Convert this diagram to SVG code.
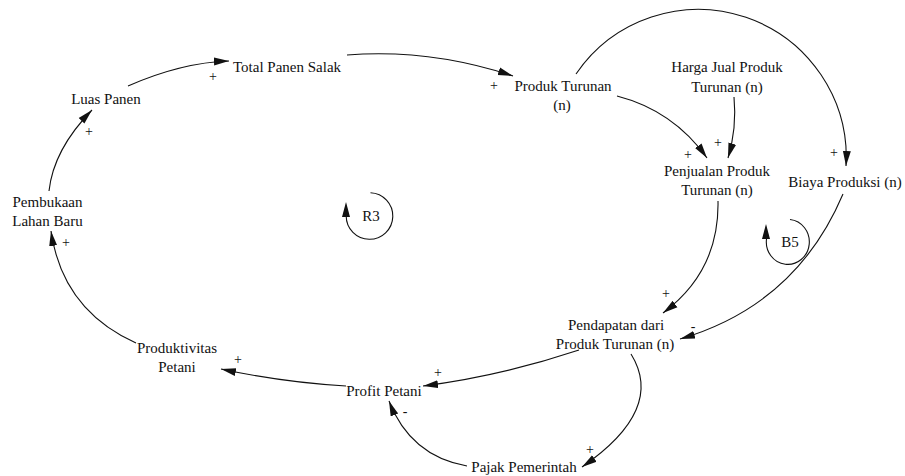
<svg xmlns="http://www.w3.org/2000/svg" width="905" height="476" viewBox="0 0 905 476">
<style>
.t{font-family:'Liberation Serif','Times New Roman','DejaVu Serif',serif;font-size:15px;fill:#111;text-anchor:middle}
.c{fill:none;stroke:#111;stroke-width:1.1;marker-end:url(#ah)}
.l{fill:none;stroke:#111;stroke-width:1.1}
.s{font-size:14px}
</style>
<defs>
<marker id="ah" markerUnits="userSpaceOnUse" markerWidth="16" markerHeight="10" refX="15" refY="4" orient="auto" viewBox="0 0 16 8">
<path d="M0,0 L15,4 L0,8 z" fill="#111"/>
</marker>
</defs>
<rect width="905" height="476" fill="#fff"/>
<g id="connectors">
<path class="c" d="M128,86 Q181.5,62.5 229,61"/>
<path class="c" d="M347,55 Q430,48.5 513,76"/>
<path class="c" d="M49,191 Q53.5,149.5 92,110"/>
<path class="c" d="M136,343 Q62.5,310 51,231"/>
<path class="c" d="M346,386 Q283.5,382.5 221,369"/>
<path class="c" d="M579,350 Q501,376 423,386"/>
<path class="c" d="M631,354 Q665.5,409.5 582,467"/>
<path class="c" d="M467,466 Q410.4,456 389,401"/>
<path class="c" d="M718,201 Q719.5,271 663,313"/>
<path class="c" d="M843,194 Q796,305 680,339"/>
<path class="c" d="M617,96 Q673.4,110.6 707,158"/>
<path class="c" d="M734,97 Q737,128 728,158"/>
<path class="c" d="M576,74 A148,148 0 0 1 846,166"/>
</g>
<g font-family="Liberation Serif, Times New Roman, serif">
<g id="loop-R3">
<path class="l" d="M370.5,192.7 A23.3,23.3 0 1 1 346.2,216"/>
<polygon points="346,202 342,217 350,217" fill="#111"/>
<text class="t" x="371" y="221">R3</text>
</g>
<g id="loop-B5">
<path class="l" d="M790,219.5 A21.5,22.5 0 1 1 766.5,239"/>
<polygon points="766,224 762,239 770,239" fill="#111"/>
<text class="t" x="790" y="247">B5</text>
</g>
<g id="node-total-panen"><text class="t" x="287" y="72">Total Panen Salak</text></g>
<g id="node-luas-panen"><text class="t" x="106" y="104">Luas Panen</text></g>
<g id="node-pembukaan"><text class="t" x="47.5" y="207">Pembukaan</text><text class="t" x="47.5" y="226">Lahan Baru</text></g>
<g id="node-produk-turunan"><text class="t" x="563" y="91">Produk Turunan</text><text class="t" x="562" y="110">(n)</text></g>
<g id="node-harga-jual"><text class="t" x="727" y="72">Harga Jual Produk</text><text class="t" x="727" y="92">Turunan (n)</text></g>
<g id="node-penjualan"><text class="t" x="717" y="176">Penjualan Produk</text><text class="t" x="717" y="195">Turunan (n)</text></g>
<g id="node-biaya"><text class="t" x="845" y="187">Biaya Produksi (n)</text></g>
<g id="node-pendapatan"><text class="t" x="616" y="330">Pendapatan dari</text><text class="t" x="615" y="349">Produk Turunan (n)</text></g>
<g id="node-produktivitas"><text class="t" x="177" y="353">Produktivitas</text><text class="t" x="177" y="372">Petani</text></g>
<g id="node-profit"><text class="t" x="384" y="396">Profit Petani</text></g>
<g id="node-pajak"><text class="t" x="524" y="472">Pajak Pemerintah</text></g>
<g id="polarities">
<text class="t s" x="213" y="81">+</text>
<text class="t s" x="89" y="136">+</text>
<text class="t s" x="66" y="247">+</text>
<text class="t s" x="494" y="90">+</text>
<text class="t s" x="238" y="364">+</text>
<text class="t s" x="438" y="377">+</text>
<text class="t s" x="405" y="416">-</text>
<text class="t s" x="590" y="454">+</text>
<text class="t s" x="666" y="298">+</text>
<text class="t s" x="693" y="331">-</text>
<text class="t s" x="688" y="159">+</text>
<text class="t s" x="718" y="147">+</text>
<text class="t s" x="834" y="157">+</text>
</g>
</g>
</svg>
